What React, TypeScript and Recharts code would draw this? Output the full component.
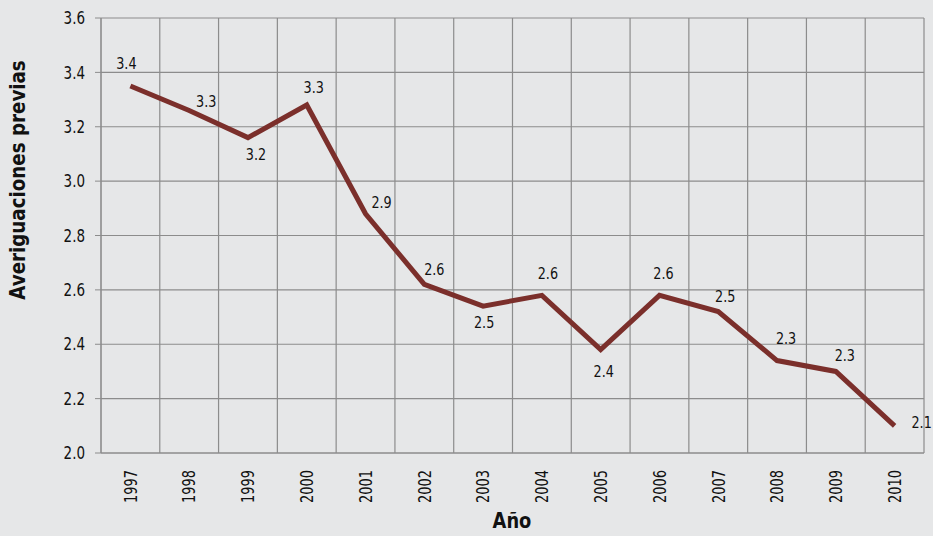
import React from 'react';
import { LineChart, Line, XAxis, YAxis, CartesianGrid, Label } from 'recharts';

const years = [1997, 1998, 1999, 2000, 2001, 2002, 2003, 2004, 2005, 2006, 2007, 2008, 2009, 2010];
const averiguaciones = [3.35, 3.26, 3.16, 3.28, 2.88, 2.62, 2.54, 2.58, 2.38, 2.58, 2.52, 2.34, 2.3, 2.1];
const yTicks = [2.0, 2.2, 2.4, 2.6, 2.8, 3.0, 3.2, 3.4, 3.6];

// where each value label sits relative to its point
const labelOffsets = [
  [-4, -22], [17, -9], [8, 17], [7, -18], [16, -11], [10, -15], [1, 16],
  [6, -22], [3, 22], [4, -22], [7, -15], [9, -22], [9, -16], [27, -3],
];

const data = years.map((year, i) => ({ year, value: averiguaciones[i] }));

const FONT = '"DejaVu Sans", sans-serif';
const GRID = '#8c8c8c';
const LINE = '#7b2f2b';
const BG = '#e6e7e8';

// no condensed face installed, so squeeze the text horizontally
const Narrow = ({ x, y, rotate = 0, squeeze = 0.78, size = 16, anchor = 'middle', baseline = 'central', bold = false, children }: any) => (
  <text
    transform={`translate(${x} ${y}) rotate(${rotate}) scale(${squeeze} 1)`}
    textAnchor={anchor}
    dominantBaseline={baseline}
    fill="#111"
    fontSize={size}
    fontWeight={bold ? 'bold' : 'normal'}
    fontFamily={FONT}
  >
    {children}
  </text>
);

const XTick = ({ x, y, payload }: any) => (
  <Narrow x={x} y={y + 9} rotate={-90} size={18} squeeze={0.72} anchor="end">
    {payload.value}
  </Narrow>
);

const YTick = ({ x, y, payload }: any) => (
  <Narrow x={x} y={y} size={18} squeeze={0.75} anchor="end">
    {Number(payload.value).toFixed(1)}
  </Narrow>
);

const ValueLabel = ({ x, y, value, index }: any) => {
  const [dx, dy] = labelOffsets[index] || [0, -18];
  return (
    <Narrow x={x + dx} y={y + dy} size={16} squeeze={0.8}>
      {Number(value).toFixed(1)}
    </Narrow>
  );
};

const App: React.FC = () => {
  const gridX = ({ offset }: any) =>
    years.concat([years[years.length - 1] + 1]).map((_, i) => offset.left + (i * offset.width) / years.length);

  return (
    <div style={{ position: 'absolute', left: 0, top: 0, width: 933, height: 536, background: BG }}>
      <LineChart
        width={933}
        height={536}
        data={data}
        margin={{ top: 18, right: 9, left: 41, bottom: 23 }}
      >
        <CartesianGrid stroke={GRID} strokeWidth={1.2} verticalCoordinatesGenerator={gridX} />
        <XAxis
          dataKey="year"
          type="number"
          domain={[1996.5, 2010.5]}
          ticks={years}
          interval={0}
          allowDataOverflow
          tick={<XTick />}
          tickLine={false}
          axisLine={{ stroke: GRID }}
          height={60}
        >
          <Label
            content={() => (
              <Narrow x={512} y={521} size={21} squeeze={0.85} bold>
                Año
              </Narrow>
            )}
          />
        </XAxis>
        <YAxis
          domain={[2.0, 3.6]}
          ticks={yTicks}
          interval={0}
          tick={<YTick />}
          tickLine={{ stroke: GRID }}
          tickSize={6}
          tickMargin={10}
          axisLine={{ stroke: GRID }}
          width={60}
        >
          <Label
            content={() => (
              <Narrow x={18} y={180} rotate={-90} size={21} squeeze={0.87} bold>
                Averiguaciones previas
              </Narrow>
            )}
          />
        </YAxis>
        <Line
          type="linear"
          dataKey="value"
          stroke={LINE}
          strokeWidth={5}
          dot={false}
          activeDot={false}
          isAnimationActive={false}
          label={<ValueLabel />}
        />
      </LineChart>
    </div>
  );
};

export default App;
